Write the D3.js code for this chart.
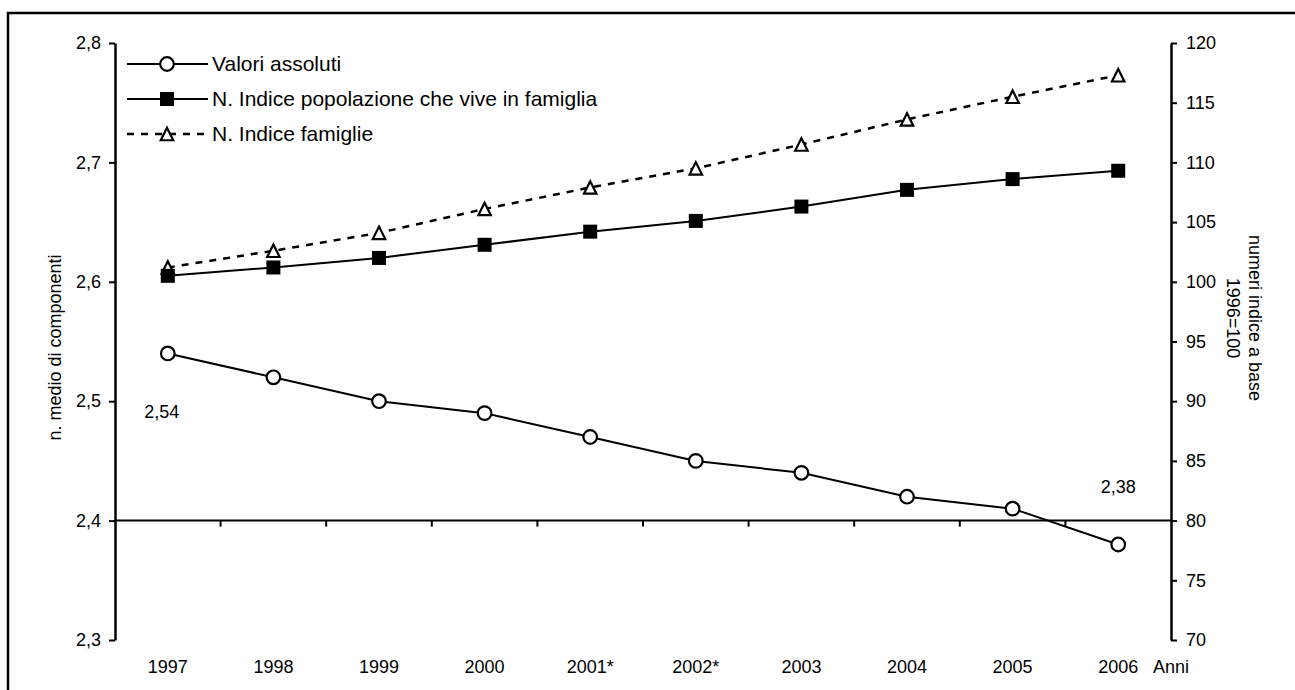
<!DOCTYPE html>
<html><head><meta charset="utf-8">
<script src="https://cdn.jsdelivr.net/npm/d3@7"></script>
<style>
html,body{margin:0;padding:0;background:#fff;}
svg{display:block;font-family:"Liberation Sans",Arial,sans-serif;}
</style></head>
<body>
<svg id="c" width="1295" height="690"></svg>
<script>
const years = ["1997","1998","1999","2000","2001*","2002*","2003","2004","2005","2006"];
const valoriAssoluti = [2.54,2.52,2.50,2.49,2.47,2.45,2.44,2.42,2.41,2.38];
const indicePopolazione = [100.5,101.2,102.0,103.1,104.2,105.1,106.3,107.7,108.6,109.3];
const indiceFamiglie = [101.2,102.6,104.1,106.1,107.9,109.5,111.5,113.6,115.5,117.3];
const leftTicks = [2.3,2.4,2.5,2.6,2.7,2.8];
const rightTicks = [70,75,80,85,90,95,100,105,110,115,120];
const seriesNames = ["Valori assoluti","N. Indice popolazione che vive in famiglia","N. Indice famiglie"];
const leftTitle = "n. medio di componenti";
const rightTitle = ["numeri indice a base","1996=100"];
const xTitle = "Anni";

const svg = d3.select("#c");
const locale = d3.formatLocale({decimal:",",thousands:".",grouping:[3],currency:["","€"]});
const f1 = locale.format(".1f"), f2 = locale.format(".2f");

const L = 115, R = 1171, T = 43, B = 640;
const x = d3.scaleBand().domain(years).range([L,R]).padding(0);
const cx = d => x(d) + x.bandwidth()/2;
const yL = d3.scaleLinear().domain([2.3,2.8]).range([B,T]);
const yR = d3.scaleLinear().domain([70,120]).range([B,T]);

// outer frame
svg.append("rect").attr("x",8).attr("y",13).attr("width",1400).attr("height",800)
  .attr("fill","none").attr("stroke","#000").attr("stroke-width",2.5);

// left axis
const gL = svg.append("g").attr("transform",`translate(${L},0)`)
  .call(d3.axisLeft(yL).tickValues(leftTicks).tickFormat(f1).tickSize(6).tickPadding(8).tickSizeOuter(0));
// right axis
const gR = svg.append("g").attr("transform",`translate(${R},0)`)
  .call(d3.axisRight(yR).tickValues(rightTicks).tickFormat(d=>d).tickSize(6).tickPadding(9).tickSizeOuter(0));
[gL,gR].forEach(g=>{
  g.select(".domain").attr("stroke","#000").attr("stroke-width",2.5);
  g.selectAll(".tick line").attr("stroke","#000").attr("stroke-width",2);
  g.selectAll(".tick text").attr("fill","#000").style("font-size","18px").style("font-family","'Liberation Sans',Arial,sans-serif");
});

// category axis crossing at 2,4
const gX = svg.append("g").attr("transform",`translate(0,${yL(2.4)})`);
gX.append("line").attr("x1",L).attr("x2",R).attr("stroke","#000").attr("stroke-width",2);
gX.selectAll("line.tk").data(years.slice(1)).enter().append("line").attr("class","tk")
  .attr("x1",d=>x(d)).attr("x2",d=>x(d)).attr("y1",0).attr("y2",6).attr("stroke","#000").attr("stroke-width",2);

// year labels
svg.append("g").selectAll("text").data(years).enter().append("text")
  .attr("x",d=>cx(d)).attr("y",673).attr("text-anchor","middle").style("font-size","18px").text(d=>d);
svg.append("text").attr("x",R).attr("y",673).attr("text-anchor","middle").style("font-size","18px").text(xTitle);

// axis titles
svg.append("text").attr("transform",`translate(61,${(T+B)/2+6}) rotate(-90)`).attr("text-anchor","middle")
  .style("font-size","18px").text(leftTitle);
svg.append("text").attr("transform",`translate(1249,318) rotate(90)`).attr("text-anchor","middle")
  .style("font-size","18px").text(rightTitle[0]);
svg.append("text").attr("transform",`translate(1227,318) rotate(90)`).attr("text-anchor","middle")
  .style("font-size","18px").text(rightTitle[1]);

// lines
const lineL = d3.line().x((d,i)=>cx(years[i])).y(d=>yL(d));
const lineR = d3.line().x((d,i)=>cx(years[i])).y(d=>yR(d));
svg.append("path").datum(indiceFamiglie).attr("d",lineR).attr("fill","none").attr("stroke","#000")
  .attr("stroke-width",2.5).attr("stroke-dasharray","7,7");
svg.append("path").datum(indicePopolazione).attr("d",lineR).attr("fill","none").attr("stroke","#000").attr("stroke-width",2);
svg.append("path").datum(valoriAssoluti).attr("d",lineL).attr("fill","none").attr("stroke","#000").attr("stroke-width",2);

// markers
const tri = s => `M0,${-s/2}L${s/2},${s/2}L${-s/2},${s/2}Z`;
function drawTri(g,xx,yy){ g.append("path").attr("d",tri(12.5)).attr("transform",`translate(${xx},${yy})`)
  .attr("fill","#fff").attr("stroke","#000").attr("stroke-width",2.2); }
function drawSq(g,xx,yy){ g.append("rect").attr("x",xx-7).attr("y",yy-7).attr("width",14).attr("height",14).attr("fill","#000"); }
function drawCirc(g,xx,yy){ g.append("circle").attr("cx",xx).attr("cy",yy).attr("r",6.8)
  .attr("fill","#fff").attr("stroke","#000").attr("stroke-width",2.2); }
const gm = svg.append("g");
indiceFamiglie.forEach((v,i)=>drawTri(gm,cx(years[i]),yR(v)));
indicePopolazione.forEach((v,i)=>drawSq(gm,cx(years[i]),yR(v)));
valoriAssoluti.forEach((v,i)=>drawCirc(gm,cx(years[i]),yL(v)));

// data labels
const n = years.length-1;
svg.append("text").attr("x",cx(years[0])-6).attr("y",yL(valoriAssoluti[0])+65).attr("text-anchor","middle")
  .style("font-size","18px").text(f2(valoriAssoluti[0]));
svg.append("text").attr("x",cx(years[n])).attr("y",yL(valoriAssoluti[n])-51).attr("text-anchor","middle")
  .style("font-size","18px").text(f2(valoriAssoluti[n]));

// legend
const lg = svg.append("g");
const rows = [64,99,134];
const kinds = ["circ","sq","tri"];
rows.forEach((ry,i)=>{
  const ln = lg.append("line").attr("x1",127).attr("x2",208).attr("y1",ry).attr("y2",ry).attr("stroke","#000")
    .attr("stroke-width",i===2?2.5:2);
  if(i===2) ln.attr("stroke-dasharray","7,7");
  if(kinds[i]==="circ") drawCirc(lg,167,ry);
  if(kinds[i]==="sq") drawSq(lg,167,ry);
  if(kinds[i]==="tri") drawTri(lg,167,ry);
  lg.append("text").attr("x",212).attr("y",ry+7).style("font-size","21px").text(seriesNames[i]);
});
</script>
</body></html>
